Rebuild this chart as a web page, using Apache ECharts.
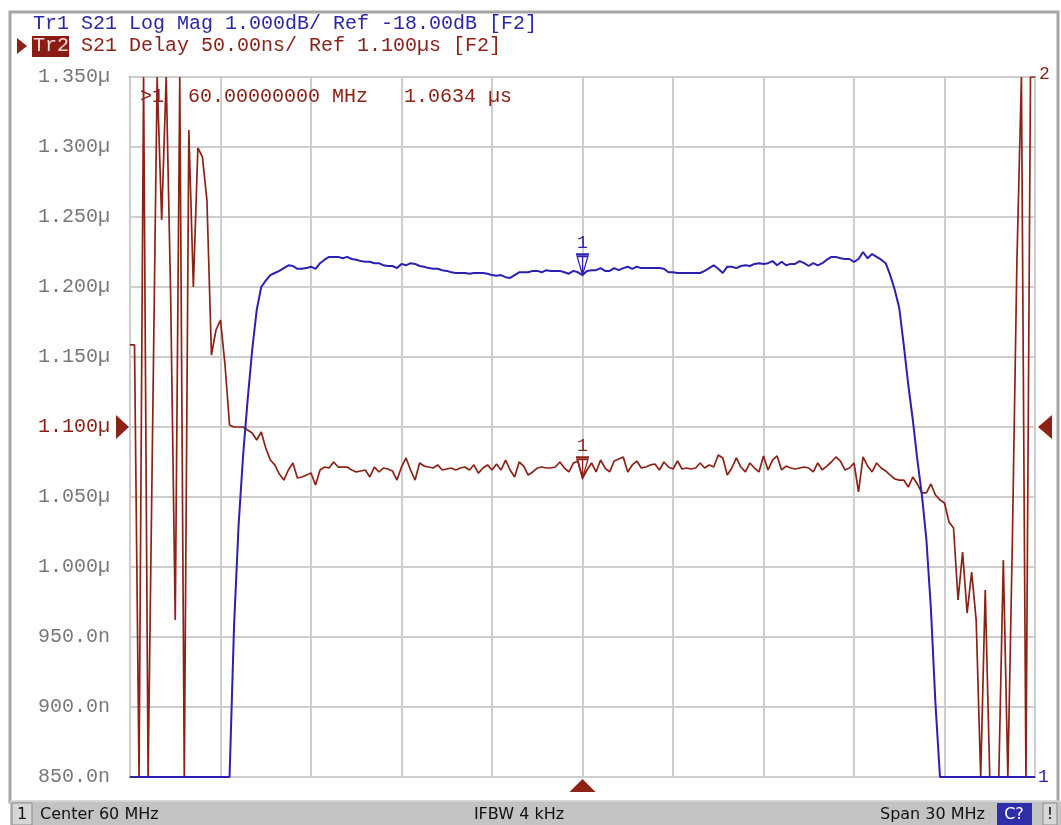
<!DOCTYPE html>
<html>
<head>
<meta charset="utf-8">
<script src="https://cdn.jsdelivr.net/npm/echarts@6/dist/echarts.min.js"></script>
<style>
html,body{margin:0;padding:0;background:#fff;}
#chart{width:1061px;height:825px;}
</style>
</head>
<body>
<div id="chart"></div>
<script>
// Sweep: Center 60 MHz, Span 30 MHz, 201 points
const SWEEP_START = 45, SWEEP_STOP = 75, POINTS = 201;
const freqMHz = Array.from({length: POINTS}, (_, i) => SWEEP_START + (SWEEP_STOP - SWEEP_START) * i / (POINTS - 1));

// Tr1: S21 Log Mag (dB), display clamped at -18 dB (bottom)
const tr1LogMag = [
-18,-18,-18,-18,-18,-18,-18,-18,-18,-18,-18,-18,-18,-18,-18,-18,-18,-18,-18,-18,-18,-18,-18,
-15.83,-14.40,-13.40,-12.61,-11.90,-11.33,-11.00,-10.91,
-10.83,-10.80,-10.77,-10.73,-10.69,-10.70,-10.74,-10.74,-10.73,-10.71,
-10.74,-10.66,-10.61,-10.57,-10.57,-10.57,-10.59,-10.57,-10.60,-10.61,
-10.63,-10.64,-10.64,-10.66,-10.66,-10.69,-10.70,-10.70,-10.73,-10.67,
-10.69,-10.66,-10.67,-10.70,-10.71,-10.73,-10.74,-10.74,-10.76,-10.77,
-10.79,-10.80,-10.80,-10.80,-10.81,-10.80,-10.80,-10.80,-10.81,-10.83,
-10.84,-10.83,-10.86,-10.87,-10.83,-10.79,-10.79,-10.79,-10.77,-10.77,
-10.79,-10.76,-10.77,-10.77,-10.77,-10.79,-10.81,-10.77,-10.79,-10.83,
-10.77,-10.76,-10.76,-10.73,-10.77,-10.77,-10.73,-10.76,-10.73,-10.71,
-10.74,-10.71,-10.73,-10.73,-10.73,-10.73,-10.73,-10.74,-10.79,-10.79,
-10.80,-10.80,-10.80,-10.80,-10.80,-10.80,-10.77,-10.73,-10.69,-10.74,
-10.80,-10.71,-10.71,-10.73,-10.70,-10.69,-10.70,-10.67,-10.66,-10.67,
-10.66,-10.63,-10.69,-10.64,-10.69,-10.67,-10.67,-10.63,-10.66,-10.70,
-10.66,-10.69,-10.66,-10.61,-10.57,-10.57,-10.59,-10.60,-10.60,-10.64,
-10.60,-10.50,-10.59,-10.53,-10.57,-10.61,-10.66,-10.83,-11.04,-11.30,
-11.83,-12.40,-12.90,-13.47,-13.97,-14.61,-15.60,-16.95,
-18,-18,-18,-18,-18,-18,-18,-18,-18,-18,-18,-18,-18,-18,-18,-18,-18,-18,-18,-18,-18,-18
];

// Tr2: S21 Delay (ns), display clamped to 850..1350 ns
const tr2DelayNs = [
1158.6,1158.6,850,1350,850,1100,1350,1247.9,1350,1190.7,
962.1,1350,850,1312.1,1200,1299.3,1292.9,1262.1,1151.4,1169.3,
1176.4,1144.3,1101.4,1100,1100,1100,1097.9,1095.7,1090.7,1096.4,
1085,1076.4,1072.9,1066.4,1062.1,1069.3,1074.3,1063.6,1064.3,1065.7,
1067.1,1058.6,1069.3,1071.4,1070.7,1075,1071.4,1071.4,1071.4,1069.3,
1067.9,1068.6,1069.3,1064.3,1071.4,1067.9,1070.7,1070,1068.6,1062.1,
1071.4,1077.9,1069.3,1062.1,1074.3,1072.1,1071.4,1070.7,1072.9,1069.3,
1070,1070.7,1069.3,1070.7,1071.4,1069.3,1072.9,1067.1,1070.7,1072.9,
1069.3,1073.6,1069.3,1076.4,1069.3,1064.3,1075,1072.1,1065.7,1067.9,
1070.7,1071.4,1070.7,1070.7,1071.4,1075,1070.7,1067.9,1074.3,1075.7,
1063.4,1069.3,1074.3,1067.9,1076.4,1070.7,1067.9,1075.7,1077.1,1078.6,
1067.9,1072.9,1075.7,1070.7,1071.4,1072.9,1073.6,1069.3,1075,1071.4,
1070,1075.7,1070,1070.7,1070,1070.7,1074.3,1070.7,1072.9,1071.4,
1080,1077.9,1065.7,1070.7,1077.9,1071.4,1067.9,1074.3,1070.7,1067.9,
1079.3,1069.3,1076.4,1079.3,1069.3,1072.1,1070.7,1070,1070.7,1071.4,
1070.7,1067.9,1074.3,1069.3,1072.1,1075,1078.6,1075.7,1069.3,1070.7,
1074.3,1053.6,1078.6,1072.1,1067.9,1074.3,1070.7,1068.6,1065.7,1062.9,
1062.1,1062.1,1057.1,1064.3,1059.3,1052.9,1052.9,1059.3,1051.4,1047.9,
1045.7,1032.1,1027.9,976.4,1010.7,967.1,996.4,962.1,850,983.6,
850,850,850,1005,850,1019.3,1217.9,1350,850,1350,
1350
];

const delayAxis = {min: 850, max: 1350, interval: 50, ref: 1100};
const magAxis = {min: -18, max: -8};
const markerIndex = 100;

const headerTr1 = 'Tr1 S21 Log Mag 1.000dB/ Ref -18.00dB [F2]';
const headerTr2Tag = 'Tr2';
const headerTr2 = 'S21 Delay 50.00ns/ Ref 1.100\u00b5s [F2]';
const statusTexts = {ch: '1', center: 'Center 60 MHz', ifbw: 'IFBW 4 kHz', span: 'Span 30 MHz', cal: 'C?', warn: '!'};

(function () {
const BLUE = '#2b20b0';
const BROWN = '#8c2216';
const MONO = '"Liberation Mono", "DejaVu Sans Mono", monospace';
const SANS = '"DejaVu Sans", "Liberation Sans", sans-serif';

const chart = echarts.init(document.getElementById('chart'), null, {renderer: 'canvas'});

function fmtDelay(v) {
  return v >= 1000 ? (v / 1000).toFixed(3) + '\u00b5' : v.toFixed(1) + 'n';
}

const markerPath = 'path://M0,0 L12,0 M1,2 L11,2 L6,20 Z M6,2 L6,20';

const option = {
  animation: false,
  backgroundColor: '#ffffff',
  grid: {left: 130, top: 77, width: 905, height: 700, show: true, borderColor: '#8c8c8c', borderWidth: 2, containLabel: false},
  xAxis: {
    type: 'value', min: SWEEP_START, max: SWEEP_STOP, interval: 3,
    axisLabel: {show: false}, axisTick: {show: false}, axisLine: {show: false},
    splitLine: {show: true, lineStyle: {color: '#cdcdcd', width: 2}}
  },
  yAxis: [
    {
      type: 'value', min: delayAxis.min, max: delayAxis.max, interval: delayAxis.interval,
      axisLine: {show: false}, axisTick: {show: false},
      axisLabel: {
        formatter: fmtDelay, margin: 20, fontFamily: MONO, fontSize: 20,
        color: function (v) { return Number(v) === delayAxis.ref ? BROWN : '#777777'; }
      },
      splitLine: {show: true, lineStyle: {color: '#cdcdcd', width: 2}}
    },
    {type: 'value', min: magAxis.min, max: magAxis.max, show: false, splitLine: {show: false}}
  ],
  series: [
    {
      name: 'Tr2', type: 'line', xAxisIndex: 0, yAxisIndex: 0, z: 2,
      data: freqMHz.map((f, i) => [f, tr2DelayNs[i]]),
      showSymbol: false, symbol: 'none', color: BROWN,
      lineStyle: {color: BROWN, width: 1.7},
      emphasis: {disabled: true},
      markPoint: {
        silent: true,
        symbol: markerPath, symbolSize: [13, 21], symbolOffset: [0, '-50%'],
        itemStyle: {color: 'rgba(0,0,0,0)', borderColor: BROWN, borderWidth: 1.5},
        label: {show: true, position: 'top', distance: 1, formatter: '1', color: BROWN, fontFamily: MONO, fontSize: 18},
        data: [{coord: [freqMHz[markerIndex], tr2DelayNs[markerIndex]]}]
      }
    },
    {
      name: 'Tr1', type: 'line', xAxisIndex: 0, yAxisIndex: 1, z: 3,
      data: freqMHz.map((f, i) => [f, tr1LogMag[i]]),
      showSymbol: false, symbol: 'none', color: BLUE,
      lineStyle: {color: BLUE, width: 2},
      emphasis: {disabled: true},
      markPoint: {
        silent: true,
        symbol: markerPath, symbolSize: [13, 21], symbolOffset: [0, '-50%'],
        itemStyle: {color: 'rgba(0,0,0,0)', borderColor: BLUE, borderWidth: 1.5},
        label: {show: true, position: 'top', distance: 1, formatter: '1', color: BLUE, fontFamily: MONO, fontSize: 18},
        data: [{coord: [freqMHz[markerIndex], tr1LogMag[markerIndex]]}]
      }
    }
  ]
};
chart.setOption(option);

// Overlay graphics positioned from the axes' own scales
const pxLeft = chart.convertToPixel({xAxisIndex: 0}, SWEEP_START);
const pxRight = chart.convertToPixel({xAxisIndex: 0}, SWEEP_STOP);
const pxTop = chart.convertToPixel({yAxisIndex: 0}, delayAxis.max);
const pxBottom = chart.convertToPixel({yAxisIndex: 0}, delayAxis.min);
const refY = chart.convertToPixel({yAxisIndex: 0}, delayAxis.ref);
const centerX = chart.convertToPixel({xAxisIndex: 0}, (SWEEP_START + SWEEP_STOP) / 2);
const mkText = freqMHz[markerIndex].toFixed(8);
const readout = '>1  ' + mkText + ' MHz   ' + (tr2DelayNs[markerIndex] / 1000).toFixed(4) + ' \u00b5s';

const g = [];
g.push({type: 'rect', shape: {x: 10, y: 12, width: 1048, height: 790}, style: {fill: 'none', stroke: '#a6a6a6', lineWidth: 3}, z: 50});
g.push({type: 'text', x: 33, y: 24, style: {text: headerTr1, fill: '#2a28a4', font: '20px ' + MONO, textVerticalAlign: 'middle'}, z: 60});
g.push({type: 'polygon', shape: {points: [[17, 38], [27, 46], [17, 54]]}, style: {fill: BROWN}, z: 60});
g.push({type: 'rect', shape: {x: 32, y: 36, width: 37, height: 21}, style: {fill: '#8a1c14'}, z: 60});
g.push({type: 'text', x: 33, y: 46, style: {text: headerTr2Tag, fill: '#f3dcd8', font: '20px ' + MONO, textVerticalAlign: 'middle'}, z: 61});
g.push({type: 'text', x: 81, y: 46, style: {text: headerTr2, fill: BROWN, font: '20px ' + MONO, textVerticalAlign: 'middle'}, z: 60});
g.push({type: 'text', x: pxLeft + 10, y: pxTop + 20, style: {text: readout, fill: BROWN, font: '20px ' + MONO, textVerticalAlign: 'middle'}, z: 60});
g.push({type: 'polygon', shape: {points: [[pxLeft - 14, refY - 12], [pxLeft - 1, refY], [pxLeft - 14, refY + 12]]}, style: {fill: BROWN}, z: 60});
g.push({type: 'polygon', shape: {points: [[pxRight + 17, refY - 12], [pxRight + 3, refY], [pxRight + 17, refY + 12]]}, style: {fill: BROWN}, z: 60});
g.push({type: 'polygon', shape: {points: [[centerX - 13, pxBottom + 15], [centerX, pxBottom + 2], [centerX + 13, pxBottom + 15]]}, style: {fill: BROWN}, z: 60});
g.push({type: 'text', x: pxRight + 4, y: pxTop - 3, style: {text: '2', fill: BROWN, font: '18px ' + MONO, textVerticalAlign: 'middle'}, z: 60});
g.push({type: 'text', x: pxRight + 3, y: pxBottom, style: {text: '1', fill: BLUE, font: '18px ' + MONO, textVerticalAlign: 'middle'}, z: 60});
g.push({type: 'rect', shape: {x: 10, y: 801, width: 1051, height: 24}, style: {fill: '#c3c3c3'}, z: 55});
g.push({type: 'line', shape: {x1: 10, y1: 801, x2: 1061, y2: 801}, style: {stroke: '#e2e2e2', lineWidth: 1}, z: 56});
g.push({type: 'rect', shape: {x: 12, y: 803, width: 20, height: 22}, style: {fill: '#d6d6d6', stroke: '#8a8a8a', lineWidth: 1}, z: 56});
g.push({type: 'text', x: 22, y: 815, style: {text: statusTexts.ch, fill: '#111', font: '16px ' + SANS, textAlign: 'center', textVerticalAlign: 'middle'}, z: 57});
g.push({type: 'text', x: 40, y: 815, style: {text: statusTexts.center, fill: '#111', font: '16px ' + SANS, textVerticalAlign: 'middle'}, z: 57});
g.push({type: 'text', x: 519, y: 815, style: {text: statusTexts.ifbw, fill: '#111', font: '16px ' + SANS, textAlign: 'center', textVerticalAlign: 'middle'}, z: 57});
g.push({type: 'text', x: 985, y: 815, style: {text: statusTexts.span, fill: '#111', font: '16px ' + SANS, textAlign: 'right', textVerticalAlign: 'middle'}, z: 57});
g.push({type: 'rect', shape: {x: 997, y: 803, width: 35, height: 22}, style: {fill: '#2e2ea8'}, z: 56});
g.push({type: 'text', x: 1014, y: 815, style: {text: statusTexts.cal, fill: '#ffffff', font: '16px ' + SANS, textAlign: 'center', textVerticalAlign: 'middle'}, z: 57});
g.push({type: 'rect', shape: {x: 1043, y: 803, width: 14, height: 22}, style: {fill: '#d6d6d6', stroke: '#8a8a8a', lineWidth: 1}, z: 56});
g.push({type: 'text', x: 1050, y: 815, style: {text: statusTexts.warn, fill: '#111', font: '16px ' + SANS, textAlign: 'center', textVerticalAlign: 'middle'}, z: 57});

chart.setOption({graphic: g});
})();
</script>
</body>
</html>
